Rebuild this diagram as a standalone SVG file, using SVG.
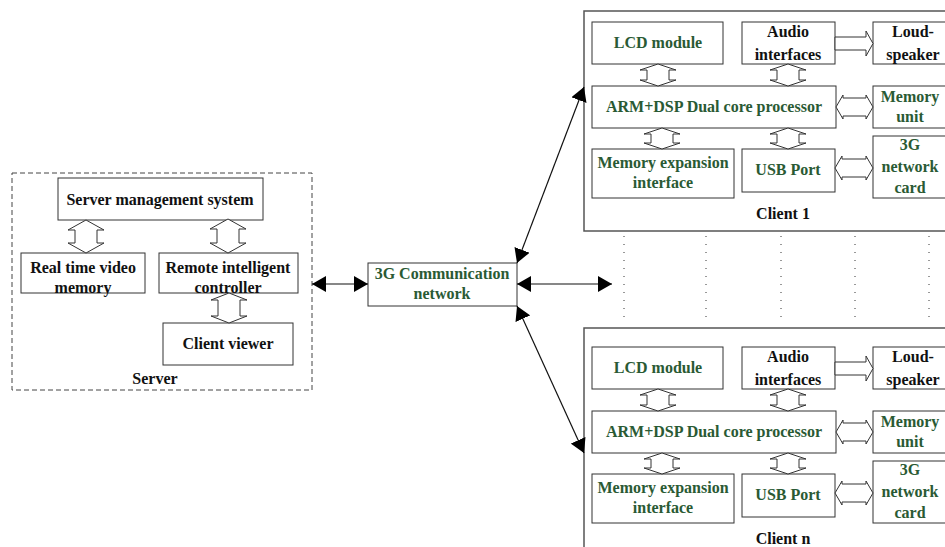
<svg xmlns="http://www.w3.org/2000/svg" width="945" height="547" viewBox="0 0 945 547">
<style>
.t{font-family:"Liberation Serif","Times New Roman",serif;font-weight:bold;font-size:16px;text-anchor:middle;fill:#111}
.g{fill:#2a5a34}
.box{fill:#fff;stroke:#333;stroke-width:1}
.outer{fill:none;stroke:#555;stroke-width:1.5}
.dash{fill:none;stroke:#444;stroke-width:1;stroke-dasharray:5,3}
.blk{fill:#fff;stroke:#333;stroke-width:1}
.ln{stroke:#111;stroke-width:1.2;fill:none}
.dot{stroke:#333;stroke-width:1;stroke-dasharray:1,7}
</style>
<defs>
<marker id="ah" viewBox="0 0 14 16" refX="14" refY="8" markerWidth="14" markerHeight="16" markerUnits="userSpaceOnUse" orient="auto-start-reverse">
<path d="M0,0 L14,8 L0,16 Z" fill="#000"/>
</marker>
</defs>

<!-- Server -->
<g id="server">
<rect class="dash" x="12" y="173" width="300" height="217"/>
<text class="t" x="155" y="384">Server</text>
</g>
<g id="sms">
<rect class="box" x="58" y="178" width="205" height="42"/>
<text class="t" x="160" y="205">Server management system</text>
</g>
<g id="rtvm">
<rect class="box" x="21" y="253" width="124" height="40"/>
<text class="t" x="83" y="273">Real time video</text>
<text class="t" x="83" y="293">memory</text>
</g>
<g id="ric">
<rect class="box" x="159" y="253" width="139" height="40"/>
<text class="t" x="228" y="273">Remote intelligent</text>
<text class="t" x="228" y="293">controller</text>
</g>
<g id="cv">
<rect class="box" x="163" y="323" width="130" height="42"/>
<text class="t" x="228" y="349">Client viewer</text>
</g>

<!-- 3G network -->
<g id="net3g">
<rect class="box" x="368" y="263" width="149" height="43"/>
<text class="t g" x="442" y="279">3G Communication</text>
<text class="t g" x="442" y="299">network</text>
</g>

<!-- Client 1 -->
<g id="client1">
<rect class="outer" x="584" y="11" width="400" height="220"/>
<text class="t" x="783" y="219">Client 1</text>
</g>
<g id="lcd1">
<rect class="box" x="592" y="22" width="131" height="42"/>
<text class="t g" x="658" y="48">LCD module</text>
</g>
<g id="audio1">
<rect class="box" x="742" y="22" width="93" height="42"/>
<text class="t" x="788" y="37">Audio</text>
<text class="t" x="788" y="60">interfaces</text>
</g>
<g id="loud1">
<rect class="box" x="873" y="22" width="100" height="42"/>
<text class="t" x="913" y="37">Loud-</text>
<text class="t" x="913" y="60">speaker</text>
</g>
<g id="arm1">
<rect class="box" x="592" y="86" width="244" height="42"/>
<text class="t g" x="714" y="112">ARM+DSP Dual core processor</text>
</g>
<g id="mem1">
<rect class="box" x="873" y="86" width="100" height="42"/>
<text class="t g" x="910" y="102">Memory</text>
<text class="t g" x="910" y="122">unit</text>
</g>
<g id="memexp1">
<rect class="box" x="592" y="149" width="142" height="49"/>
<text class="t g" x="663" y="168">Memory expansion</text>
<text class="t g" x="663" y="188">interface</text>
</g>
<g id="usb1">
<rect class="box" x="742" y="149" width="93" height="43"/>
<text class="t g" x="788" y="175">USB Port</text>
</g>
<g id="card1">
<rect class="box" x="873" y="136" width="100" height="62"/>
<text class="t g" x="910" y="150">3G</text>
<text class="t g" x="910" y="172">network</text>
<text class="t g" x="910" y="193">card</text>
</g>

<!-- Client n -->
<g id="clientn">
<rect class="outer" x="584" y="328" width="400" height="240"/>
<text class="t" x="783" y="544">Client n</text>
</g>
<g id="lcdn">
<rect class="box" x="592" y="347" width="131" height="42"/>
<text class="t g" x="658" y="373">LCD module</text>
</g>
<g id="audion">
<rect class="box" x="742" y="347" width="93" height="42"/>
<text class="t" x="788" y="362">Audio</text>
<text class="t" x="788" y="385">interfaces</text>
</g>
<g id="loudn">
<rect class="box" x="873" y="347" width="100" height="42"/>
<text class="t" x="913" y="362">Loud-</text>
<text class="t" x="913" y="385">speaker</text>
</g>
<g id="armn">
<rect class="box" x="592" y="411" width="244" height="42"/>
<text class="t g" x="714" y="437">ARM+DSP Dual core processor</text>
</g>
<g id="memn">
<rect class="box" x="873" y="411" width="100" height="42"/>
<text class="t g" x="910" y="427">Memory</text>
<text class="t g" x="910" y="447">unit</text>
</g>
<g id="memexpn">
<rect class="box" x="592" y="474" width="142" height="49"/>
<text class="t g" x="663" y="493">Memory expansion</text>
<text class="t g" x="663" y="513">interface</text>
</g>
<g id="usbn">
<rect class="box" x="742" y="474" width="93" height="43"/>
<text class="t g" x="788" y="500">USB Port</text>
</g>
<g id="cardn">
<rect class="box" x="873" y="461" width="100" height="62"/>
<text class="t g" x="910" y="475">3G</text>
<text class="t g" x="910" y="497">network</text>
<text class="t g" x="910" y="518">card</text>
</g>

<!-- Connectors -->
<g id="connectors">
<!-- server internal block arrows -->
<polygon class="blk" points="86,220 104,230 97,230 97,243 104,243 86,253 68,243 75,243 75,230 68,230"/>
<polygon class="blk" points="228,219 246,229 239,229 239,243 246,243 228,253 210,243 217,243 217,229 210,229"/>
<polygon class="blk" points="229,293 247,300 240,300 240,316 247,316 229,323 211,316 218,316 218,300 211,300"/>
<!-- client 1 block arrows -->
<polygon class="blk" points="658,64 676,70 669,70 669,80 676,80 658,86 640,80 647,80 647,70 640,70"/>
<polygon class="blk" points="788,64 806,70 799,70 799,80 806,80 788,86 770,80 777,80 777,70 770,70"/>
<polygon class="blk" points="662,128 680,134 673,134 673,143 680,143 662,149 644,143 651,143 651,134 644,134"/>
<polygon class="blk" points="788,128 806,134 799,134 799,143 806,143 788,149 770,143 777,143 777,134 770,134"/>
<polygon class="blk" points="835,37 866,37 866,31 873,43.5 866,56 866,50 835,50"/>
<polygon class="blk" points="836,107 843,95 843,98 866,98 866,95 873,107 866,119 866,116 843,116 843,119"/>
<polygon class="blk" points="835,168 842,156 842,159 866,159 866,156 873,168 866,180 866,177 842,177 842,180"/>
<!-- client n block arrows -->
<polygon class="blk" points="658,389 676,395 669,395 669,405 676,405 658,411 640,405 647,405 647,395 640,395"/>
<polygon class="blk" points="788,389 806,395 799,395 799,405 806,405 788,411 770,405 777,405 777,395 770,395"/>
<polygon class="blk" points="662,453 680,459 673,459 673,468 680,468 662,474 644,468 651,468 651,459 644,459"/>
<polygon class="blk" points="788,453 806,459 799,459 799,468 806,468 788,474 770,468 777,468 777,459 770,459"/>
<polygon class="blk" points="835,362 866,362 866,356 873,368.5 866,381 866,375 835,375"/>
<polygon class="blk" points="836,432 843,420 843,423 866,423 866,420 873,432 866,444 866,441 843,441 843,444"/>
<polygon class="blk" points="835,493 842,481 842,484 866,484 866,481 873,493 866,505 866,502 842,502 842,505"/>
<!-- network lines -->
<line class="ln" x1="312" y1="284" x2="368" y2="284" marker-start="url(#ah)" marker-end="url(#ah)"/>
<line class="ln" x1="517" y1="284" x2="612" y2="284" marker-start="url(#ah)" marker-end="url(#ah)"/>
<line class="ln" x1="517" y1="263" x2="584" y2="87" marker-start="url(#ah)" marker-end="url(#ah)"/>
<line class="ln" x1="517" y1="306" x2="584" y2="453" marker-start="url(#ah)" marker-end="url(#ah)"/>
<!-- dotted -->
<line class="dot" x1="624" y1="236" x2="624" y2="324"/>
<line class="dot" x1="706" y1="236" x2="706" y2="324"/>
<line class="dot" x1="781" y1="236" x2="781" y2="324"/>
<line class="dot" x1="855" y1="236" x2="855" y2="324"/>
<line class="dot" x1="929" y1="236" x2="929" y2="324"/>
</g>
</svg>
